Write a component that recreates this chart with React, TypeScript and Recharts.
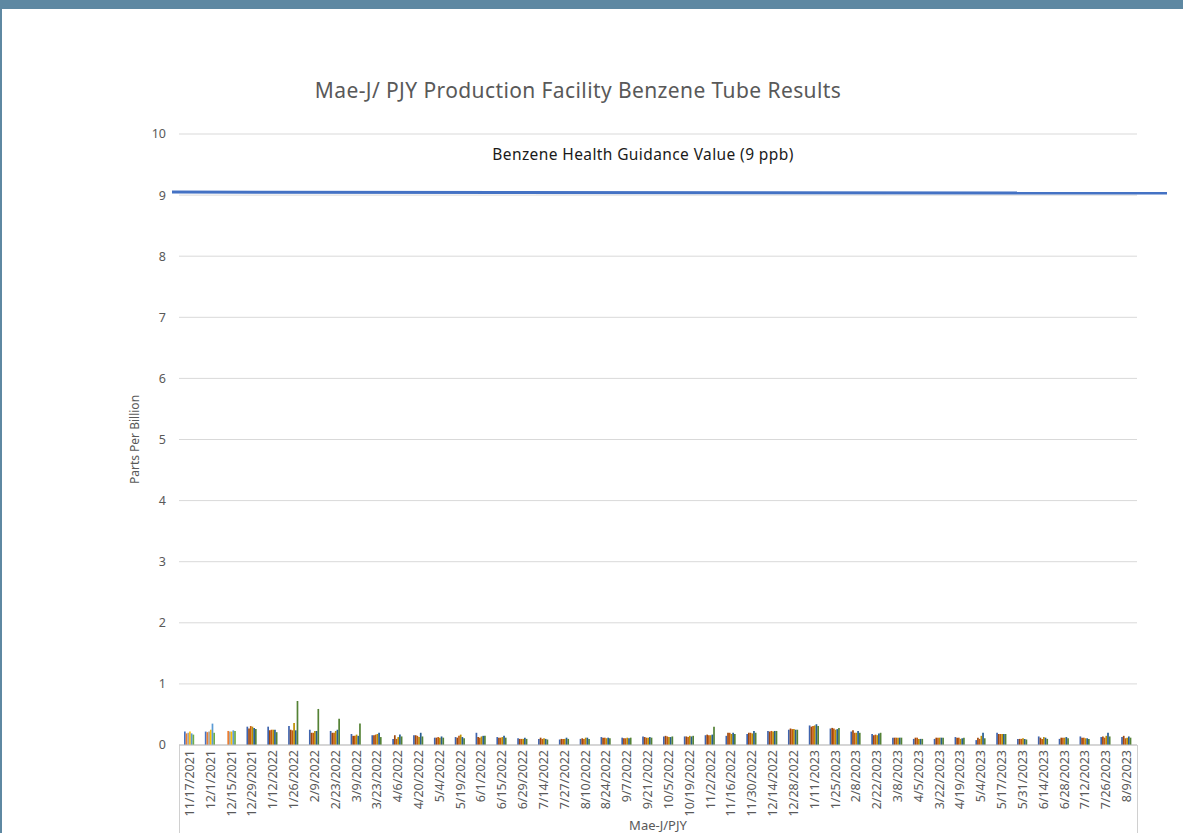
import React from "react";
import {
  ComposedChart,
  Bar,
  Cell,
  XAxis,
  YAxis,
  CartesianGrid,
  ReferenceLine,
  Label,
} from "recharts";

// Sampling dates, in the order the sheet lists them (4/5 before 3/22 as in the source).
const DATES = [
  "11/17/2021", "12/1/2021", "12/15/2021", "12/29/2021", "1/12/2022", "1/26/2022",
  "2/9/2022", "2/23/2022", "3/9/2022", "3/23/2022", "4/6/2022", "4/20/2022",
  "5/4/2022", "5/19/2022", "6/1/2022", "6/15/2022", "6/29/2022", "7/14/2022",
  "7/27/2022", "8/10/2022", "8/24/2022", "9/7/2022", "9/21/2022", "10/5/2022",
  "10/19/2022", "11/2/2022", "11/16/2022", "11/30/2022", "12/14/2022", "12/28/2022",
  "1/11/2023", "1/25/2023", "2/8/2023", "2/22/2023", "3/8/2023", "4/5/2023",
  "3/22/2023", "4/19/2023", "5/4/2023", "5/17/2023", "5/31/2023", "6/14/2023",
  "6/28/2023", "7/12/2023", "7/26/2023", "8/9/2023",
];

// Six benzene tubes per date, ppb.
const TUBE_1 = [
  0.22, 0.22, null, 0.3, 0.3, 0.31, 0.25, 0.23, 0.18, 0.16, 0.1, 0.16,
  0.12, 0.13, 0.2, 0.13, 0.11, 0.1, 0.09, 0.1, 0.13, 0.12, 0.14, 0.14,
  0.14, 0.16, 0.15, 0.18, 0.23, 0.25, 0.32, 0.27, 0.22, 0.18, 0.12, 0.1,
  0.1, 0.13, 0.08, 0.2, 0.1, 0.14, 0.1, 0.14, 0.13, 0.13,
];
const TUBE_2 = [
  0.19, 0.21, 0.23, 0.27, 0.24, 0.25, 0.2, 0.2, 0.15, 0.16, 0.16, 0.16,
  0.12, 0.12, 0.13, 0.12, 0.1, 0.12, 0.1, 0.11, 0.12, 0.11, 0.13, 0.15,
  0.14, 0.17, 0.2, 0.2, 0.22, 0.27, 0.3, 0.28, 0.24, 0.16, 0.12, 0.12,
  0.12, 0.12, 0.12, 0.18, 0.1, 0.12, 0.12, 0.12, 0.14, 0.15,
];
const TUBE_3 = [
  0.2, 0.22, 0.22, 0.31, 0.25, 0.24, 0.2, 0.2, 0.15, 0.17, 0.1, 0.15,
  0.13, 0.15, 0.12, 0.12, 0.1, 0.1, 0.1, 0.1, 0.12, 0.11, 0.12, 0.14,
  0.13, 0.16, 0.2, 0.2, 0.23, 0.26, 0.31, 0.27, 0.2, 0.17, 0.12, 0.12,
  0.12, 0.12, 0.1, 0.18, 0.1, 0.1, 0.12, 0.12, 0.12, 0.11,
];
const TUBE_4 = [
  0.22, 0.25, 0.22, 0.3, 0.25, 0.36, 0.23, 0.23, 0.17, 0.18, 0.13, 0.13,
  0.12, 0.17, 0.14, 0.13, 0.1, 0.11, 0.1, 0.12, 0.11, 0.12, 0.12, 0.13,
  0.15, 0.16, 0.18, 0.19, 0.22, 0.26, 0.32, 0.25, 0.2, 0.16, 0.12, 0.1,
  0.12, 0.1, 0.15, 0.18, 0.11, 0.13, 0.12, 0.11, 0.15, 0.12,
];
const TUBE_5 = [
  0.19, 0.35, 0.24, 0.28, 0.25, 0.24, 0.23, 0.25, 0.15, 0.2, 0.17, 0.2,
  0.14, 0.13, 0.15, 0.15, 0.12, 0.1, 0.12, 0.12, 0.12, 0.11, 0.13, 0.13,
  0.14, 0.17, 0.2, 0.23, 0.23, 0.25, 0.34, 0.26, 0.23, 0.19, 0.12, 0.1,
  0.12, 0.11, 0.2, 0.18, 0.1, 0.12, 0.13, 0.11, 0.2, 0.14,
];
const TUBE_6 = [
  0.17, 0.2, 0.23, 0.26, 0.21, 0.72, 0.59, 0.43, 0.35, 0.13, 0.14, 0.14,
  0.12, 0.11, 0.15, 0.12, 0.1, 0.09, 0.1, 0.1, 0.11, 0.12, 0.12, 0.14,
  0.15, 0.3, 0.18, 0.2, 0.23, 0.25, 0.31, 0.28, 0.2, 0.2, 0.12, 0.1,
  0.12, 0.12, 0.11, 0.18, 0.09, 0.1, 0.11, 0.1, 0.14, 0.12,
];

const TUBES = [TUBE_1, TUBE_2, TUBE_3, TUBE_4, TUBE_5, TUBE_6];
const Y_TICKS = [0, 1, 2, 3, 4, 5, 6, 7, 8, 9, 10];
const GUIDANCE_PPB = 9.05;

// first few dates are drawn in the lighter Office palette, the rest in darker shades
const LIGHT = ["#4472C4", "#ED7D31", "#A5A5A5", "#FFC000", "#5B9BD5", "#70AD47"];
const DARK = ["#3F64AE", "#9E480E", "#C55A11", "#BF9000", "#255E91", "#548235"];
const LIGHT_COUNT = 3;

const TEXT = "#595959";
const FONT = "'Noto Sans', 'Open Sans', sans-serif";

const rows = DATES.map((d, i) => {
  const r: Record<string, string | number | null> = { date: d };
  TUBES.forEach((t, k) => {
    r["t" + k] = t[i];
  });
  return r;
});

function DateTick(props: any) {
  const { x, y, payload } = props;
  return (
    <text
      x={x}
      y={y}
      dy={4.5}
      transform={`rotate(-90, ${x}, ${y})`}
      textAnchor="end"
      fill={TEXT}
      fontSize={12.5}
      fontFamily={FONT}
    >
      {payload.value}
    </text>
  );
}

export default function App() {
  return (
    <div
      style={{
        position: "fixed",
        left: 0,
        top: 0,
        width: 1183,
        height: 833,
        background: "#fff",
        overflow: "hidden",
        fontFamily: FONT,
      }}
    >
      {/* window frame */}
      <div style={{ position: "absolute", left: 0, top: 0, width: 1183, height: 9, background: "#5E88A2" }} />
      <div style={{ position: "absolute", left: 0, top: 0, width: 2, height: 833, background: "#5E88A2" }} />

      <div
        style={{
          position: "absolute",
          left: 228,
          top: 76,
          width: 700,
          textAlign: "center",
          fontSize: 21,
          letterSpacing: 0.4,
          color: TEXT,
        }}
      >
        Mae-J/ PJY Production Facility Benzene Tube Results
      </div>
      <div
        style={{
          position: "absolute",
          left: 443,
          top: 143,
          width: 400,
          textAlign: "center",
          fontSize: 15.5,
          letterSpacing: 0.4,
          color: "#1a1a1a",
        }}
      >
        Benzene Health Guidance Value (9 ppb)
      </div>

      {/* multi-level category brackets below the axis */}
      <div style={{ position: "absolute", left: 179, top: 745, width: 1, height: 88, background: "#d0d0d0" }} />
      <div style={{ position: "absolute", left: 1137, top: 745, width: 1, height: 88, background: "#d0d0d0" }} />

      <div style={{ position: "absolute", left: 0, top: 0 }}>
        <ComposedChart
          width={1183}
          height={833}
          data={rows}
          margin={{ top: 134, right: 46, bottom: 0, left: 149 }}
          barGap={0}
          barSize={1.7}
        >
          <CartesianGrid vertical={false} stroke="#d9d9d9" />
          <XAxis
            dataKey="date"
            interval={0}
            height={88}
            tickSize={0}
            tickMargin={5}
            tick={<DateTick />}
            axisLine={{ stroke: "#bfbfbf" }}
          >
            <Label
              value="Mae-J/PJY"
              position="insideBottom"
              offset={3}
              fill={TEXT}
              fontSize={13}
              fontFamily={FONT}
            />
          </XAxis>
          <YAxis
            domain={[0, 10]}
            ticks={Y_TICKS}
            width={30}
            tickSize={0}
            tickMargin={13}
            axisLine={false}
            tick={{ fill: TEXT, fontSize: 12.5, fontFamily: FONT }}
          >
            <Label
              content={(p: any) => {
                const vb = p.viewBox;
                const cx = vb.x - 10;
                const cy = vb.y + vb.height / 2;
                return (
                  <text
                    x={cx}
                    y={cy}
                    transform={`rotate(-90, ${cx}, ${cy})`}
                    textAnchor="middle"
                    fill={TEXT}
                    fontSize={12}
                    fontFamily={FONT}
                  >
                    Parts Per Billion
                  </text>
                );
              }}
            />
          </YAxis>
          {TUBES.map((_, k) => (
            <Bar key={k} dataKey={"t" + k} isAnimationActive={false}>
              {DATES.map((d, i) => (
                <Cell key={d} fill={i < LIGHT_COUNT ? LIGHT[k] : DARK[k]} />
              ))}
            </Bar>
          ))}
          <ReferenceLine
            y={GUIDANCE_PPB}
            shape={(p: any) => (
              <line
                x1={p.x1 - 7}
                y1={p.y1}
                x2={p.x2 + 30}
                y2={p.y2 + 1}
                stroke="#4472C4"
                strokeWidth={3}
              />
            )}
          />
        </ComposedChart>
      </div>
    </div>
  );
}
